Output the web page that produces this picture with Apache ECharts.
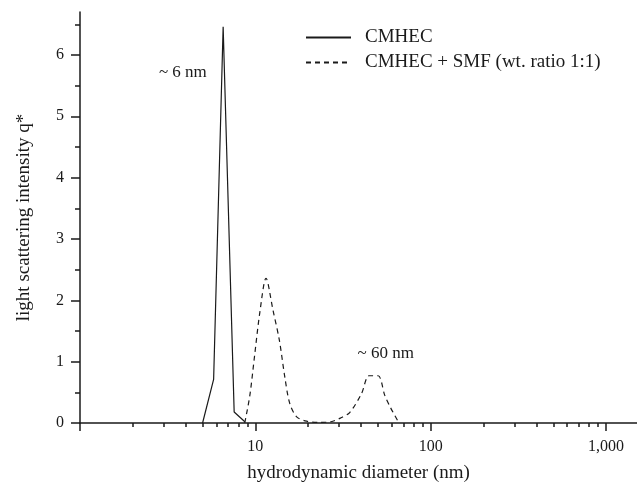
<!DOCTYPE html>
<html>
<head>
<meta charset="utf-8">
<script src="https://cdn.jsdelivr.net/npm/echarts@6/dist/echarts.min.js"></script>
<style>
    html, body { margin: 0; padding: 0; background: #fff; }
    #chart { width: 637px; height: 483px; }
</style>
</head>
<body>
<div id="chart"></div>
<script>
// 数据：CMHEC（实线）
const cmhecX = [5.0, 5.78, 6.55, 7.57, 8.71];
const cmhecY = [0, 0.71, 6.46, 0.18, 0.02];
// 数据：CMHEC + SMF（虚线）
const mixX = [8.7, 9.3, 9.9, 10.6, 11.5, 12.6, 13.7, 14.7, 15.7, 17.2, 19.6, 23, 27, 30.5, 34.5, 40.3, 44.5, 50.1, 54.7, 59, 65];
const mixY = [0, 0.45, 1.1, 1.8, 2.36, 1.84, 1.35, 0.76, 0.32, 0.1, 0.03, 0.01, 0.02, 0.08, 0.17, 0.48, 0.77, 0.77, 0.45, 0.25, 0.03];

// 刻度
const xMajorTicks = [1, 10, 100, 1000];
const xLabels = [10, 100, 1000];
const xMinorTicks = [2, 3, 4, 5, 6, 7, 8, 9, 20, 30, 40, 50, 60, 70, 80, 90, 200, 300, 400, 500, 600, 700, 800, 900];
const yMajorTicks = [0, 1, 2, 3, 4, 5, 6];
const yMinorTicks = [0.5, 1.5, 2.5, 3.5, 4.5, 5.5, 6.5];

// 注释
const notes = [
    {text: '~ 6 nm', x: 3.86, y: 5.71},
    {text: '~ 60 nm', x: 55.4, y: 1.13}
];

const FONT = 'Liberation Serif';
const INK = '#1a1a1a';

function zip(xs, ys) {
    return xs.map((x, i) => [x, ys[i]]);
}

let chart = echarts.init(document.getElementById('chart'));

const gridRect = {left: 80, top: 12, right: 0, bottom: 60, containLabel: false, outerBoundsMode: 'none'};

let option = {
    animation: false,
    backgroundColor: '#fff',
    grid: [
        Object.assign({}, gridRect),
        Object.assign({}, gridRect)
    ],
    legend: {
        orient: 'vertical',
        left: 305,
        top: 28,
        padding: 0,
        itemWidth: 45,
        itemHeight: 14,
        itemGap: 6,
        itemStyle: {opacity: 0},
        textStyle: {fontFamily: FONT, fontSize: 19, color: INK, padding: [0, 0, 0, 9]},
        data: ['CMHEC', 'CMHEC + SMF (wt. ratio 1:1)']
    },
    xAxis: [
        {
            type: 'log',
            gridIndex: 0,
            min: 1,
            max: 1500,
            name: 'hydrodynamic diameter (nm)',
            nameLocation: 'middle',
            nameGap: 41,
            nameTextStyle: {fontFamily: FONT, fontSize: 19, color: INK},
            axisLine: {lineStyle: {color: INK, width: 1.5}},
            axisTick: {customValues: xMajorTicks, length: 8, lineStyle: {color: INK, width: 1.5}},
            axisLabel: {
                customValues: xLabels,
                margin: 16,
                fontFamily: FONT,
                fontSize: 16,
                color: INK,
                formatter: v => Number(v).toLocaleString('en-US')
            },
            splitLine: {show: false}
        },
        {
            type: 'log',
            gridIndex: 1,
            min: 1,
            max: 1500,
            axisLine: {show: false},
            axisTick: {customValues: xMinorTicks, length: 4, lineStyle: {color: INK, width: 1.5}},
            axisLabel: {show: false},
            splitLine: {show: false}
        }
    ],
    yAxis: [
        {
            type: 'value',
            gridIndex: 0,
            min: 0,
            max: 6.7,
            name: 'light scattering intensity q*',
            nameLocation: 'middle',
            nameGap: 46,
            nameTextStyle: {fontFamily: FONT, fontSize: 19, color: INK},
            axisLine: {show: true, lineStyle: {color: INK, width: 1.5}},
            axisTick: {show: true, customValues: yMajorTicks, length: 9, lineStyle: {color: INK, width: 1.5}},
            axisLabel: {customValues: yMajorTicks, margin: 16, fontFamily: FONT, fontSize: 16, color: INK},
            splitLine: {show: false}
        },
        {
            type: 'value',
            gridIndex: 1,
            min: 0,
            max: 6.7,
            axisLine: {show: false},
            axisTick: {show: true, customValues: yMinorTicks, length: 5, lineStyle: {color: INK, width: 1.5}},
            axisLabel: {show: false},
            splitLine: {show: false}
        }
    ],
    series: [
        {
            name: 'CMHEC',
            type: 'line',
            xAxisIndex: 0,
            yAxisIndex: 0,
            data: zip(cmhecX, cmhecY),
            symbol: 'none',
            lineStyle: {color: INK, width: 1.2, type: 'solid'},
            itemStyle: {color: INK},
            markPoint: {
                symbol: 'rect',
                symbolSize: 1,
                itemStyle: {color: 'rgba(0,0,0,0)'},
                label: {
                    show: true,
                    position: 'inside',
                    formatter: p => p.name,
                    fontFamily: FONT,
                    fontSize: 17,
                    color: INK
                },
                data: notes.map(n => ({name: n.text, coord: [n.x, n.y]}))
            }
        },
        {
            name: 'CMHEC + SMF (wt. ratio 1:1)',
            type: 'line',
            xAxisIndex: 0,
            yAxisIndex: 0,
            data: zip(mixX, mixY),
            symbol: 'none',
            smooth: 0.3,
            lineStyle: {color: INK, width: 1.2, type: [5, 4]},
            itemStyle: {color: INK}
        }
    ]
};

chart.setOption(option);
</script>
</body>
</html>
